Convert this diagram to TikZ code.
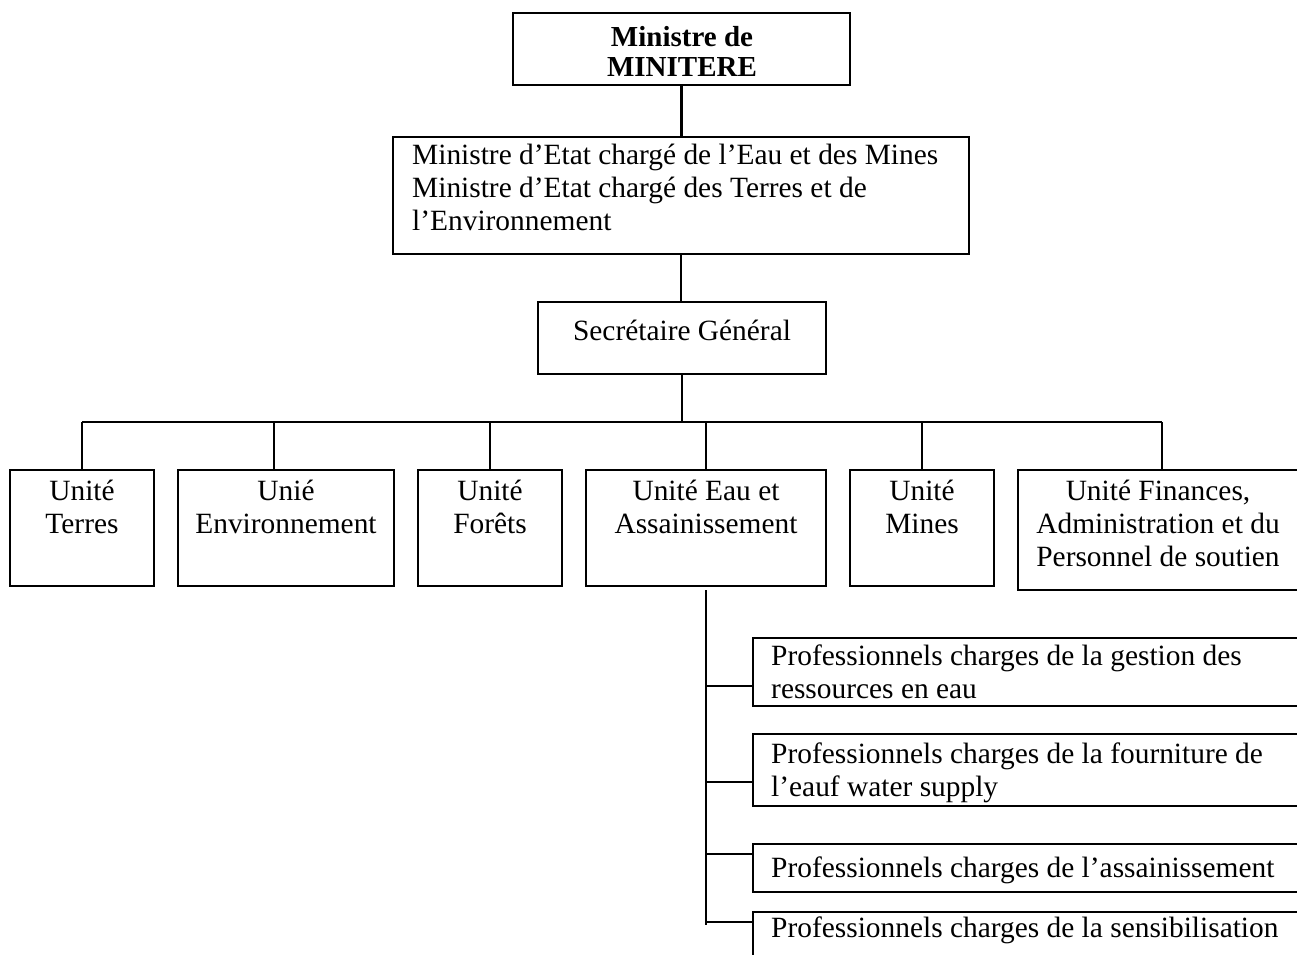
\documentclass[tikz,border=0pt]{standalone}
\usepackage{fontspec}
\setmainfont{Liberation Serif}
\begin{document}
\begin{tikzpicture}[x=1pt,y=-1pt,
  box/.style={draw, line width=2.7pt, anchor=north west, inner sep=0pt, outer sep=0pt},
  lbl/.style={inner sep=0pt, anchor=base, align=center, font=\fontsize{29.4}{33}\selectfont},
  lbll/.style={lbl, align=left, anchor=base west},
  link/.style={line width=2.7pt}]
\useasboundingbox (0,0) rectangle (1297,954);
\clip (0,0) rectangle (1297,954);

% top level (text nodes are anchored at the baseline of their last line)
\node[box, minimum width=337pt, minimum height=72pt] (ministre) at (513,13) {};
\node[lbl, font=\fontsize{29}{29.5}\selectfont\bfseries] (ministreT) at (682,76) {Ministre de\\MINITERE};

\node[box, minimum width=576pt, minimum height=117pt] (etat) at (393,137) {};
\node[lbll] (etatT) at (412,230) {Ministre d’Etat chargé de l’Eau et des Mines\\Ministre d’Etat chargé des Terres et de\\l’Environnement};

\node[box, minimum width=288pt, minimum height=72pt] (sg) at (538,302) {};
\node[lbl] (sgT) at (682,340) {Secrétaire Général};

% units
\node[box, minimum width=144pt, minimum height=116pt] (terres) at (10,470) {};
\node[lbl] (terresT) at (82,533) {Unité\\Terres};
\node[box, minimum width=216pt, minimum height=116pt] (env) at (178,470) {};
\node[lbl] (envT) at (286,533) {Unié\\Environnement};
\node[box, minimum width=144pt, minimum height=116pt] (forets) at (418,470) {};
\node[lbl] (foretsT) at (490,533) {Unité\\Forêts};
\node[box, minimum width=240pt, minimum height=116pt] (eau) at (586,470) {};
\node[lbl] (eauT) at (706,533) {Unité Eau et\\Assainissement};
\node[box, minimum width=144pt, minimum height=116pt] (mines) at (850,470) {};
\node[lbl] (minesT) at (922,533) {Unité\\Mines};
\node[box, minimum width=285pt, minimum height=120pt] (fin) at (1018,470) {};
\node[lbl] (finT) at (1158,566) {Unité Finances,\\Administration et du\\Personnel de soutien};

% water and sanitation professionals
\node[box, minimum width=560pt, minimum height=68pt] (p1) at (753,638) {};
\node[lbll] (p1T) at (771,698) {Professionnels charges de la gestion des\\ressources en eau};
\node[box, minimum width=560pt, minimum height=72pt] (p2) at (753,734) {};
\node[lbll] (p2T) at (771,796) {Professionnels charges de la fourniture de\\l’eauf water supply};
\node[box, minimum width=560pt, minimum height=48pt] (p3) at (753,844) {};
\node[lbll] (p3T) at (771,877) {Professionnels charges de l’assainissement};
\node[box, minimum width=560pt, minimum height=60pt] (p4) at (753,912) {};
\node[lbll] (p4T) at (771,937) {Professionnels charges de la sensibilisation};

% connectors
\draw[link] (ministre.south) -- (ministre.south |- etat.north);
\draw[link] (etat.south) -- (etat.south |- sg.north);

\coordinate (b1) at (82,422);
\coordinate (b2) at (274,422);
\coordinate (b3) at (490,422);
\coordinate (b4) at (706,422);
\coordinate (b5) at (922,422);
\coordinate (b6) at (1162,422);
\draw[link] (sg.south) -- (sg.south |- b1);
\draw[link] (b1) -- (b6);
\draw[link] (b1) -- (b1 |- terres.north);
\draw[link] (b2) -- (b2 |- env.north);
\draw[link] (b3) -- (b3 |- forets.north);
\draw[link] (b4) -- (b4 |- eau.north);
\draw[link] (b5) -- (b5 |- mines.north);
\draw[link] (b6) -- (b6 |- fin.north);

\coordinate (s0) at (706,590);
\coordinate (s9) at (706,925);
\coordinate (t1) at (706,686);
\coordinate (t2) at (706,782);
\coordinate (t3) at (706,854);
\coordinate (t4) at (706,922);
\draw[link] (s0) -- (s9);
\draw[link] (t1) -- (t1 -| p1.west);
\draw[link] (t2) -- (t2 -| p2.west);
\draw[link] (t3) -- (t3 -| p3.west);
\draw[link] (t4) -- (t4 -| p4.west);
\end{tikzpicture}
\end{document}
